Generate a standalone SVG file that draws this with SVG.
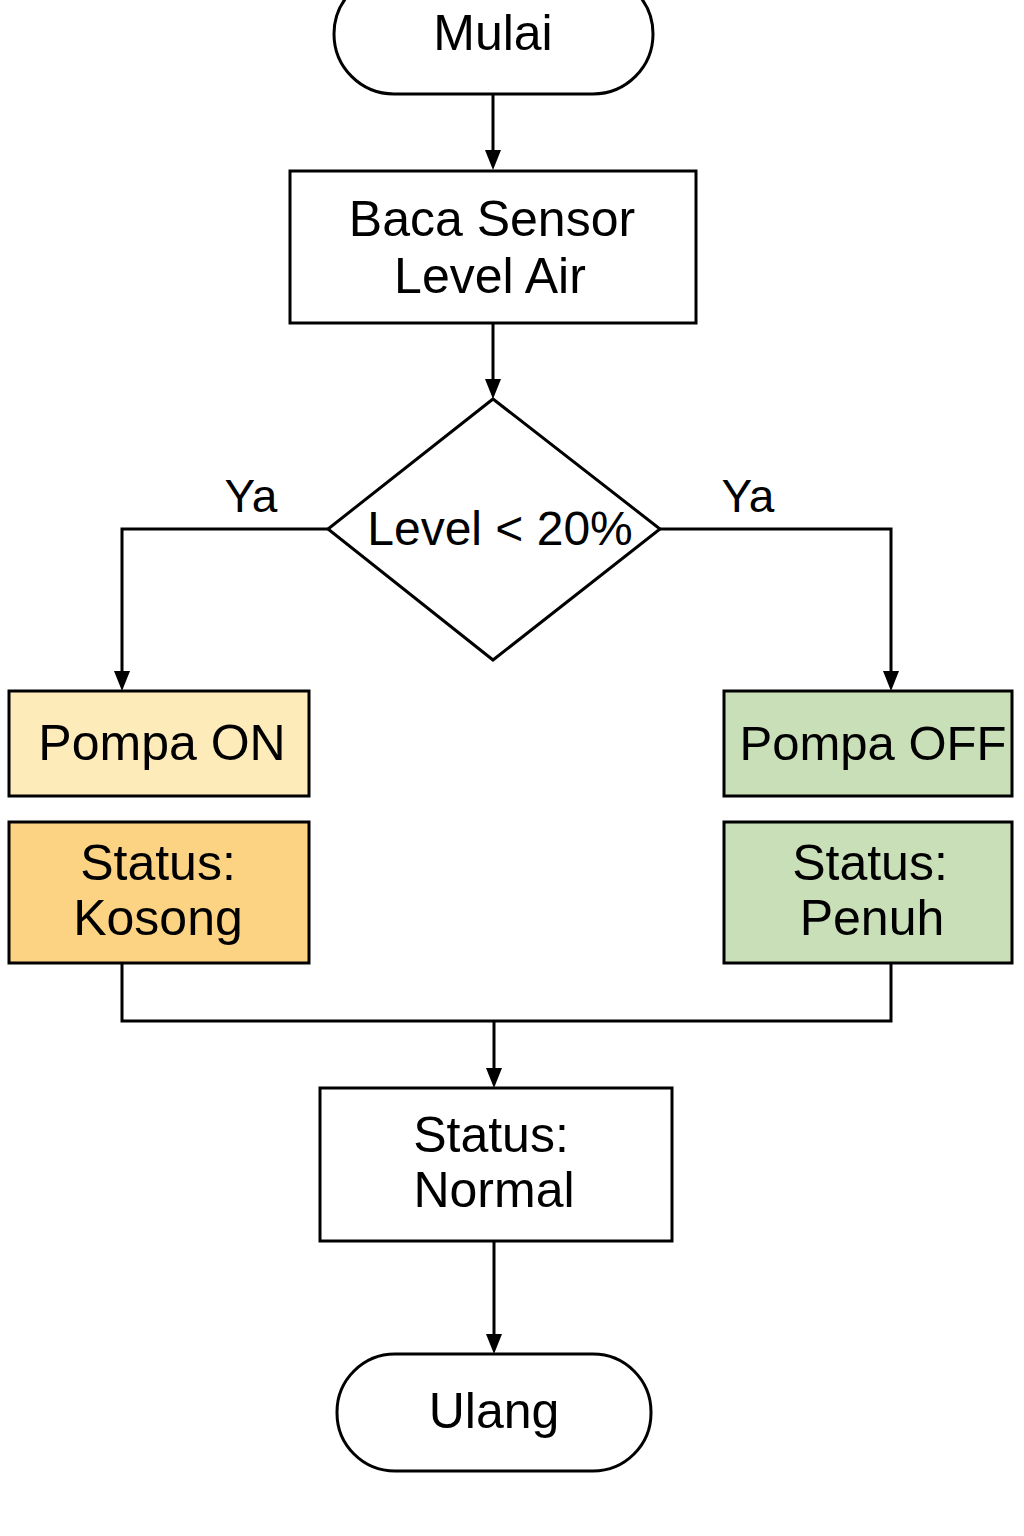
<svg xmlns="http://www.w3.org/2000/svg" width="1024" height="1536" viewBox="0 0 1024 1536">
<defs>
<style>
.s{stroke:#000;stroke-width:3;fill:#fff}
.t{font-family:"Liberation Sans",Arial,sans-serif;font-size:50px;fill:#000;text-anchor:middle}
.c{stroke:#000;stroke-width:3;fill:none}
.a{fill:#000}
</style>
</defs>
<rect width="1024" height="1536" fill="#fff"/>
<g id="connectors">
<path class="c" d="M493,94 V152"/>
<path class="a" d="M485,150 L501,150 L493,170 z"/>
<path class="c" d="M493,323 V381"/>
<path class="a" d="M485,379 L501,379 L493,399 z"/>
<path class="c" d="M328,529 H122 V673"/>
<path class="a" d="M114,671 L130,671 L122,691 z"/>
<path class="c" d="M660,529 H891 V673"/>
<path class="a" d="M883,671 L899,671 L891,691 z"/>
<path class="c" d="M122,963 V1021 H891 V963"/>
<path class="c" d="M494,1021 V1070"/>
<path class="a" d="M486,1068 L502,1068 L494,1088 z"/>
<path class="c" d="M494,1241 V1336"/>
<path class="a" d="M486,1334 L502,1334 L494,1354 z"/>
<text class="t" x="251" y="512" style="font-size:46px">Ya</text>
<text class="t" x="748" y="512" style="font-size:46px">Ya</text>
</g>
<g id="mulai">
<rect class="s" x="334" y="-26" width="319" height="120" rx="60"/>
<text class="t" x="493" y="50">Mulai</text>
</g>
<g id="baca">
<rect class="s" x="290" y="171" width="406" height="152"/>
<text class="t" x="492" y="236">Baca Sensor</text>
<text class="t" x="490" y="293">Level Air</text>
</g>
<g id="decision">
<polygon class="s" points="493,399 660,529 493,660 328,529"/>
<text class="t" x="500" y="545" style="font-size:48px">Level &lt; 20%</text>
</g>
<g id="pompa-on">
<rect class="s" x="9" y="691" width="300" height="105" style="fill:#FDEBB9"/>
<text class="t" x="162" y="760">Pompa ON</text>
</g>
<g id="status-kosong">
<rect class="s" x="9" y="822" width="300" height="141" style="fill:#FCD283"/>
<text class="t" x="158" y="880">Status:</text>
<text class="t" x="158" y="935">Kosong</text>
</g>
<g id="pompa-off">
<rect class="s" x="724" y="691" width="288" height="105" style="fill:#C8DFB7"/>
<text class="t" x="873" y="760" style="font-size:49px">Pompa OFF</text>
</g>
<g id="status-penuh">
<rect class="s" x="724" y="822" width="288" height="141" style="fill:#C8DFB7"/>
<text class="t" x="870" y="880">Status:</text>
<text class="t" x="872" y="935">Penuh</text>
</g>
<g id="status-normal">
<rect class="s" x="320" y="1088" width="352" height="153"/>
<text class="t" x="491" y="1152">Status:</text>
<text class="t" x="494" y="1207">Normal</text>
</g>
<g id="ulang">
<rect class="s" x="337" y="1354" width="314" height="117" rx="58"/>
<text class="t" x="494" y="1428">Ulang</text>
</g>
</svg>
